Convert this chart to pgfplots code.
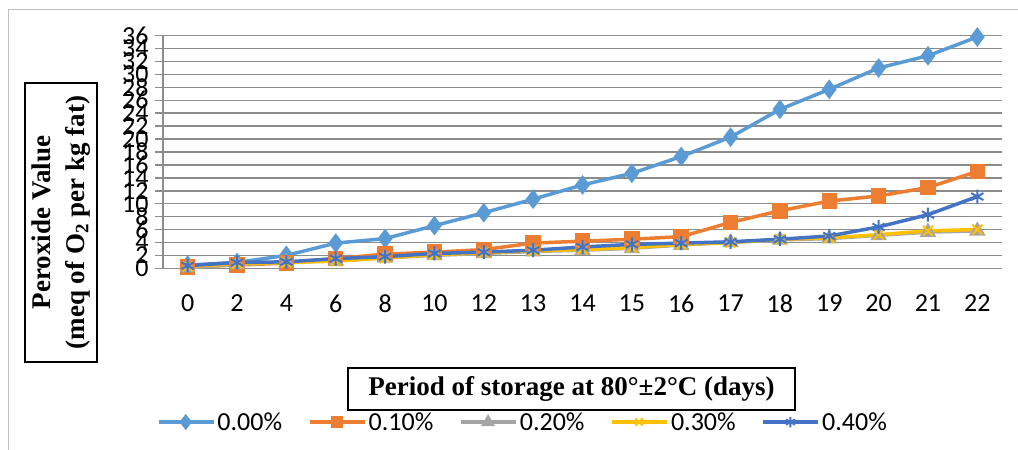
\documentclass[border=0pt]{standalone}
\usepackage{fontspec}
\usepackage{pgfplots}
\usepackage{pgfplotstable}
\pgfplotsset{compat=1.18}
\setmainfont{Carlito}
\newfontfamily\tnr{Liberation Serif}

\definecolor{c0}{HTML}{5B9BD5}
\definecolor{c1}{HTML}{ED7D31}
\definecolor{c2}{HTML}{A5A5A5}
\definecolor{c3}{HTML}{FFC000}
\definecolor{c4}{HTML}{4472C4}
\definecolor{gridc}{RGB}{140,140,140}

% peroxide value by storage day (index 0..16)
\pgfplotstableread{
x  s0    s1    s2   s3   s4
0  0.5   0.2   0.1  0.3  0.4
1  0.9   0.5   0.6  0.7  0.9
2  2.0   0.8   0.9  0.9  1.0
3  3.9   1.5   1.2  1.1  1.5
4  4.6   2.2   1.6  1.6  1.8
5  6.6   2.5   2.0  2.1  2.3
6  8.6   2.9   2.3  2.4  2.5
7  10.7  3.9   2.6  2.7  2.8
8  12.9  4.2   2.8  2.9  3.3
9  14.7  4.5   3.1  3.2  3.7
10 17.3  4.9   3.6  3.7  3.9
11 20.3  7.1   4.0  4.0  4.1
12 24.6  8.9   4.4  4.5  4.5
13 27.7  10.4  4.6  4.7  5.0
14 31.0  11.2  5.1  5.2  6.4
15 32.9  12.5  5.6  5.8  8.3
16 35.8  15.0  5.8  6.0  11.1
}\pvdata

\begin{document}
\begin{tikzpicture}
\useasboundingbox (0,0) rectangle (1018bp,450bp);
\draw[gray!50, line width=1bp] (8bp,0bp) -- (8bp,440bp) -- (1018bp,440bp);
\begin{axis}[
    at={(163bp,181.7bp)}, anchor=south west,
    scale only axis, width=839bp, height=232.6bp,
    xmin=-0.5, xmax=16.5, ymin=0, ymax=36,
    axis lines=left, axis line style={-, gridc, line width=1.5bp},
    xtick={0,...,16},
    xticklabels={0,2,4,6,8,10,12,13,14,15,16,17,18,19,20,21,22},
    xtick style={draw=none},
    extra x ticks={-0.5,0.5,...,16.5},
    extra x tick labels={},
    extra x tick style={tick style={draw=gridc, line width=1.5bp}, major tick length=8bp, tick align=outside, grid=none},
    ytick={0,2,...,36},
    ytick style={draw=gridc, line width=1.5bp},
    major tick length=8bp, tick align=outside,
    ymajorgrids, major grid style={gridc, line width=1.5bp},
    tick label style={font=\fontsize{26bp}{28bp}\selectfont},
    /pgf/number format/assume math mode=true,
    xticklabel style={yshift=-15bp},
    yticklabel style={xshift=-3bp},
    xlabel={Period of storage at 80°±2°C (days)},
    xlabel style={at={(0.4869,-0.519)}, anchor=center, draw=black, line width=1.3bp,
        font=\tnr\bfseries\fontsize{27bp}{30bp}\selectfont, inner sep=2bp,
        minimum width=447bp, minimum height=42bp},
    ylabel={Peroxide Value\\(meq of O\textsubscript{2} per kg fat)},
    ylabel style={at={(-0.1216,0.197)}, anchor=center, rotate=0, draw=black, line width=1.3bp,
        align=center, inner sep=1bp, font=\tnr\bfseries\fontsize{27bp}{34bp}\selectfont,
        minimum width=279bp, minimum height=72bp},
    legend columns=5,
    legend style={at={(0.429,-0.661)}, anchor=center, draw=none, fill=none,
        font=\fontsize{26bp}{28bp}\selectfont,
        nodes={inner xsep=2bp},
        /tikz/every even column/.append style={column sep=24bp}},
    legend cell align=left,
    legend image code/.code={\draw[mark repeat=2, mark phase=2, #1, every mark/.append style={scale=0.75}] plot coordinates {(0bp,0bp) (27bp,0bp) (55bp,0bp)};},
    every axis plot/.append style={line width=3.5bp, mark options={solid}},
]
\addplot[c0, mark=diamond*, mark size=7bp] table[x=x, y=s0] {\pvdata};
\addplot[c1, mark=square*, mark size=6bp] table[x=x, y=s1] {\pvdata};
\addplot[c2, mark=triangle*, mark size=6bp] table[x=x, y=s2] {\pvdata};
\addplot[c3, mark=x, mark size=7bp, mark options={line width=2bp}] table[x=x, y=s3] {\pvdata};
\addplot[c4, mark=asterisk, mark size=7bp, mark options={line width=2bp}] table[x=x, y=s4] {\pvdata};
\legend{0.00\%, 0.10\%, 0.20\%, 0.30\%, 0.40\%}
\end{axis}
\end{tikzpicture}
\end{document}
